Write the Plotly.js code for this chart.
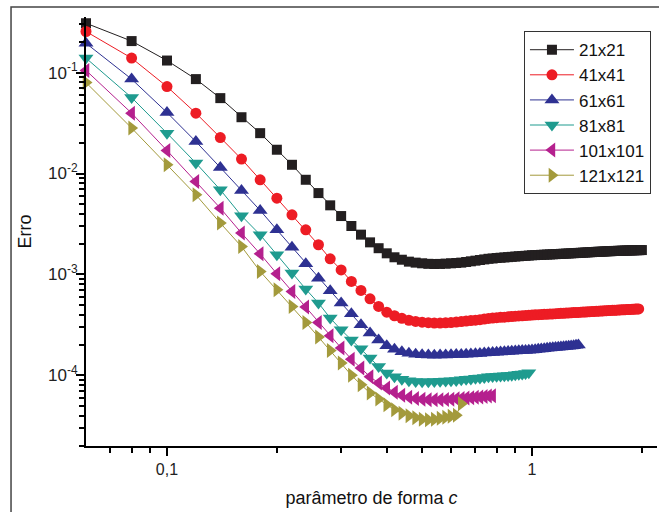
<!DOCTYPE html>
<html>
<head>
<meta charset="utf-8">
<script src="https://cdn.plot.ly/plotly-3.0.1.min.js"></script>
<style>html,body{margin:0;padding:0;background:#fff;}#chart{width:659px;height:512px;}</style>
</head>
<body>
<div id="chart"></div>
<script>
// shape parameter c (shared grid)
const cValues = [
  0.06,0.08,0.10,0.12,0.14,0.16,0.18,0.20,0.22,0.24,
  0.26,0.28,0.30,0.32,0.34,0.36,0.38,0.40,0.42,0.44,
  0.46,0.48,0.50,0.52,0.54,0.56,0.58,0.60,0.62,0.64,
  0.66,0.68,0.70,0.72,0.74,0.76,0.78,0.80,0.82,0.84,
  0.86,0.88,0.90,0.92,0.94,0.96,0.98,1.00,1.02,1.04,
  1.06,1.08,1.10,1.12,1.14,1.16,1.18,1.20,1.22,1.24,
  1.26,1.28,1.30,1.32,1.34,1.36,1.38,1.40,1.42,1.44,
  1.46,1.48,1.50,1.52,1.54,1.56,1.58,1.60,1.62,1.64,
  1.66,1.68,1.70,1.72,1.74,1.76,1.78,1.80,1.82,1.84,
  1.86,1.88,1.90,1.92,1.94,1.96,1.98,2.00
];

const err21 = [
  0.308,0.205,0.1315,0.0861,0.0558,0.0361,0.0251,0.0172,0.0122,0.00867,
  0.0064,0.00484,0.00379,0.00302,0.00248,0.00208,0.00182,0.00162,0.00148,0.0014,
  0.00134,0.00131,0.00129,0.001275,0.00127,0.001272,0.00128,0.00129,0.0013,0.00131,
  0.00133,0.00135,0.00137,0.00139,0.00141,0.00143,0.00144,0.001455,0.001465,0.001475,
  0.001485,0.001495,0.001505,0.001515,0.001525,0.00153,0.00154,0.00155,0.001555,0.00156,
  0.001565,0.00157,0.001575,0.00158,0.001585,0.00159,0.001595,0.0016,0.001605,0.00161,
  0.001615,0.00162,0.001625,0.00163,0.001635,0.00164,0.001645,0.00165,0.001655,0.00166,
  0.001665,0.00167,0.001675,0.00168,0.00168,0.001685,0.00169,0.001695,0.0017,0.0017,
  0.001705,0.00171,0.00171,0.001715,0.001715,0.00172,0.00172,0.001725,0.001725,0.00173,
  0.00173,0.001735,0.001735,0.00174,0.00174,0.00174,0.001745,0.001745
];

const err41 = [
  0.255,0.139,0.0726,0.0396,0.0227,0.0139,0.00867,0.0057,0.0039,0.00277,
  0.00197,0.00143,0.00111,0.000853,0.000695,0.000574,0.000482,0.000423,0.00039,0.000368,
  0.000352,0.000343,0.000337,0.000333,0.00033,0.00033,0.000332,0.000334,0.000338,0.000342,
  0.000346,0.00035,0.000353,0.000357,0.000362,0.000367,0.00037,0.000373,0.000376,0.000378,
  0.000381,0.000383,0.000386,0.000388,0.00039,0.000392,0.000394,0.000396,0.000398,0.0004,
  0.000401,0.000403,0.000404,0.000406,0.000407,0.000409,0.00041,0.000412,0.000413,0.000415,
  0.000416,0.000417,0.000419,0.00042,0.000421,0.000423,0.000424,0.000425,0.000427,0.000428,
  0.000429,0.00043,0.000432,0.000433,0.000434,0.000435,0.000436,0.000438,0.000439,0.00044,
  0.000441,0.000442,0.000443,0.000444,0.000445,0.000446,0.000447,0.000448,0.000449,0.00045,
  0.000451,0.000452,0.000453,0.000454,0.000455,0.000456
];

const err61 = [
  0.195,0.0861,0.0402,0.0207,0.01146,0.00679,0.00431,0.00277,0.00186,0.00128,
  0.00092,0.00069,0.000521,0.000408,0.000318,0.000263,0.000225,0.000197,0.000182,0.000172,
  0.000166,0.000162,0.00016,0.000159,0.0001585,0.000159,0.0001595,0.00016,0.000161,0.0001615,
  0.000162,0.000163,0.000164,0.000165,0.000167,0.000168,0.000169,0.00017,0.000171,0.000172,
  0.000173,0.000174,0.000175,0.000176,0.0001765,0.000177,0.000178,0.000179,0.00018,0.000182,
  0.000183,0.000184,0.000186,0.000187,0.000188,0.000189,0.00019,0.000191,0.000192,0.000194,
  0.000195,0.000196,0.000197,0.000199,0.0002
];

const err81 = [
  0.139,0.0565,0.0251,0.0127,0.0069,0.00381,0.00247,0.001567,0.001033,0.000716,
  0.000521,0.00037,0.000283,0.000225,0.000184,0.0001486,0.0001227,0.0001057,0.000097,0.0000916,
  0.0000887,0.0000871,0.0000867,0.0000867,0.0000869,0.0000877,0.0000882,0.0000887,0.0000893,0.0000908,
  0.0000915,0.0000922,0.0000938,0.0000945,0.0000955,0.000097,0.0000975,0.000098,0.0000988,0.0000993,
  0.0000998,0.0001005,0.0001016,0.0001025,0.0001035,0.0001045,0.0001064
];

const err101 = [
  0.105,0.0396,0.0169,0.00834,0.00454,0.00257,0.0016,0.001016,0.000679,0.000475,
  0.000335,0.000247,0.000187,0.000145,0.0001183,0.000097,0.0000841,0.000075,0.0000682,0.0000637,
  0.0000608,0.000059,0.0000581,0.0000574,0.0000574,0.0000574,0.0000578,0.0000582,0.0000587,0.0000591,
  0.0000597,0.0000601,0.0000607,0.0000612,0.0000618,0.0000624,0.000063
];

const err121 = [
  0.0796,0.0282,0.0122,0.00615,0.00323,0.00189,0.001071,0.000706,0.000482,0.000335,
  0.00024,0.000177,0.0001327,0.0001005,0.0000809,0.000067,0.0000583,0.0000513,0.0000457,0.0000423,
  0.0000399,0.0000381,0.0000368,0.0000364,0.0000368,0.0000377,0.0000386,0.0000394,0.0000404,0.0000525
];

const seriesNames = ["21x21","41x41","61x61","81x81","101x101","121x121"];
const seriesErr = [err21, err41, err61, err81, err101, err121];

const yTickVals = [1e-4, 1e-3, 1e-2, 1e-1];
const yTickText = ["10<sup>-4</sup>","10<sup>-3</sup>","10<sup>-2</sup>","10<sup>-1</sup>"];
const yMinorVals = [2e-5,3e-5,4e-5,5e-5,6e-5,7e-5,8e-5,9e-5,
  2e-4,3e-4,4e-4,5e-4,6e-4,7e-4,8e-4,9e-4,
  2e-3,3e-3,4e-3,5e-3,6e-3,7e-3,8e-3,9e-3,
  2e-2,3e-2,4e-2,5e-2,6e-2,7e-2,8e-2,9e-2,
  0.2,0.3];
const xTickVals = [0.1, 1];
const xTickText = ["0,1", "1"];
const xMinorVals = [0.07,0.08,0.09,0.2,0.3,0.4,0.5,0.6,0.7,0.8,0.9,2];

const styles = [
  {color:"#231f20", symbol:"square", size:10},
  {color:"#ed1c24", symbol:"circle", size:11},
  {color:"#2e3192", symbol:"triangle-up", size:13},
  {color:"#1f9b8f", symbol:"triangle-down", size:13},
  {color:"#b5208e", symbol:"triangle-left", size:13},
  {color:"#a39a3c", symbol:"triangle-right", size:13}
];

const traces = seriesNames.map((name, i) => ({
  type: "scatter",
  mode: "lines+markers",
  name: name,
  x: cValues.slice(0, seriesErr[i].length),
  y: seriesErr[i],
  cliponaxis: false,
  line: {color: styles[i].color, width: 1},
  marker: {color: styles[i].color, symbol: styles[i].symbol, size: styles[i].size, line: {width: 0}}
}));

const font = "Liberation Sans, Arial, sans-serif";

const layout = {
  width: 659, height: 512,
  margin: {l: 86, r: 2, t: 17, b: 66},
  paper_bgcolor: "#fff", plot_bgcolor: "#fff",
  font: {family: font, color: "#000", size: 16},
  showlegend: true,
  legend: {
    x: 0.767, y: 0.967, xanchor: "left", yanchor: "top",
    bgcolor: "#fff", bordercolor: "#333", borderwidth: 1,
    font: {family: font, size: 17, color: "#111"},
    itemwidth: 44, tracegroupgap: 0
  },
  xaxis: {
    type: "log",
    range: [Math.log10(0.06), Math.log10(2.2)],
    showgrid: false, zeroline: false,
    showline: true, linecolor: "#000", linewidth: 2,
    ticks: "outside", ticklen: 8, tickwidth: 2, tickcolor: "#000",
    tickmode: "array", tickvals: xTickVals, ticktext: xTickText,
    tickfont: {family: font, size: 16, color: "#222"},
    minor: {tickmode: "array", tickvals: xMinorVals, ticks: "outside", ticklen: 5, tickwidth: 2, tickcolor: "#000", showgrid: false},
    title: {text: "parâmetro de forma <i>c</i>", font: {family: font, size: 18, color: "#111"}, standoff: 14}
  },
  yaxis: {
    type: "log",
    range: [Math.log10(2e-5), Math.log10(0.355)],
    showgrid: false, zeroline: false,
    showline: true, linecolor: "#000", linewidth: 2,
    ticks: "outside", ticklen: 8, tickwidth: 2, tickcolor: "#000",
    ticklabelstandoff: -5,
    tickmode: "array", tickvals: yTickVals, ticktext: yTickText,
    tickfont: {family: font, size: 17, color: "#222"},
    minor: {tickmode: "array", tickvals: yMinorVals, ticks: "outside", ticklen: 5, tickwidth: 2, tickcolor: "#000", showgrid: false},
    title: {text: "Erro", font: {family: font, size: 18, color: "#111"}, standoff: 12}
  },
  shapes: [{
    type: "rect", xref: "paper", yref: "paper",
    x0: -0.1313, x1: 1.2, y0: -0.3, y1: 1.0233,
    line: {color: "#444", width: 1.5}, fillcolor: "rgba(0,0,0,0)", layer: "below"
  }]
};

Plotly.newPlot("chart", traces, layout, {displayModeBar: false, staticPlot: true});
</script>
</body>
</html>
